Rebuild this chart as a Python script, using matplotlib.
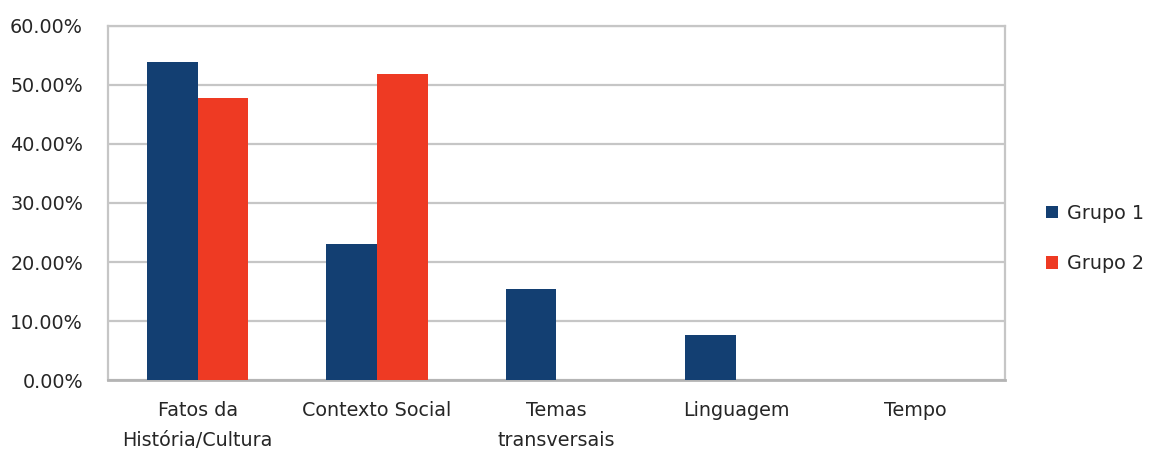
import numpy as np
import matplotlib
matplotlib.use("Agg")
import matplotlib.pyplot as plt
from matplotlib.ticker import FuncFormatter

# Dados do gráfico
categorias = ["Fatos da\nHistória/Cultura", "Contexto Social", "Temas\ntransversais",
              "Linguagem", "Tempo"]
grupo1 = [53.85, 23.08, 15.38, 7.69, 0.0]
grupo2 = [47.83, 51.90, 0.0, 0.0, 0.0]
series = ["Grupo 1", "Grupo 2"]

cor_g1 = "#133F72"
cor_g2 = "#EE3A23"
cor_grade = "#C6C6C6"

plt.rcParams["font.family"] = ["DejaVu Sans"]

fig = plt.figure(figsize=(11.5, 4.55), dpi=100)
ax = fig.add_axes([0.0939, 0.1648, 0.78, 0.7781])

x = np.arange(len(categorias))
largura = 0.282
ax.bar(x - largura / 2, grupo1, largura, color=cor_g1, label=series[0], zorder=3)
ax.bar(x + largura / 2, grupo2, largura, color=cor_g2, label=series[1], zorder=3)

ax.set_xlim(-0.5, len(categorias) - 0.5)
ax.set_ylim(0, 60)
ax.set_yticks(np.arange(0, 61, 10))
ax.yaxis.set_major_formatter(FuncFormatter(lambda v, p: "{:.2f}%".format(v)))
ax.set_xticks(x)
ax.set_xticklabels(categorias, linespacing=1.75)

ax.grid(axis="y", color=cor_grade, linewidth=1.6, zorder=0)
for lado in ["top", "right", "left"]:
    ax.spines[lado].set_color(cor_grade)
    ax.spines[lado].set_linewidth(1.6)
ax.spines["bottom"].set_color("#B4B4B4")
ax.spines["bottom"].set_linewidth(2.0)

ax.tick_params(axis="both", length=0, labelsize=13.8, colors="#262626")
ax.tick_params(axis="x", pad=15)
ax.tick_params(axis="y", pad=18)

fig.legend(loc="center left", bbox_to_anchor=(0.8945, 0.476), frameon=False,
           fontsize=13.8, handlelength=0.62, handleheight=0.62, handletextpad=0.5,
           labelspacing=1.65, labelcolor="#262626")

fig.savefig("out.png", dpi=100, facecolor="white")
